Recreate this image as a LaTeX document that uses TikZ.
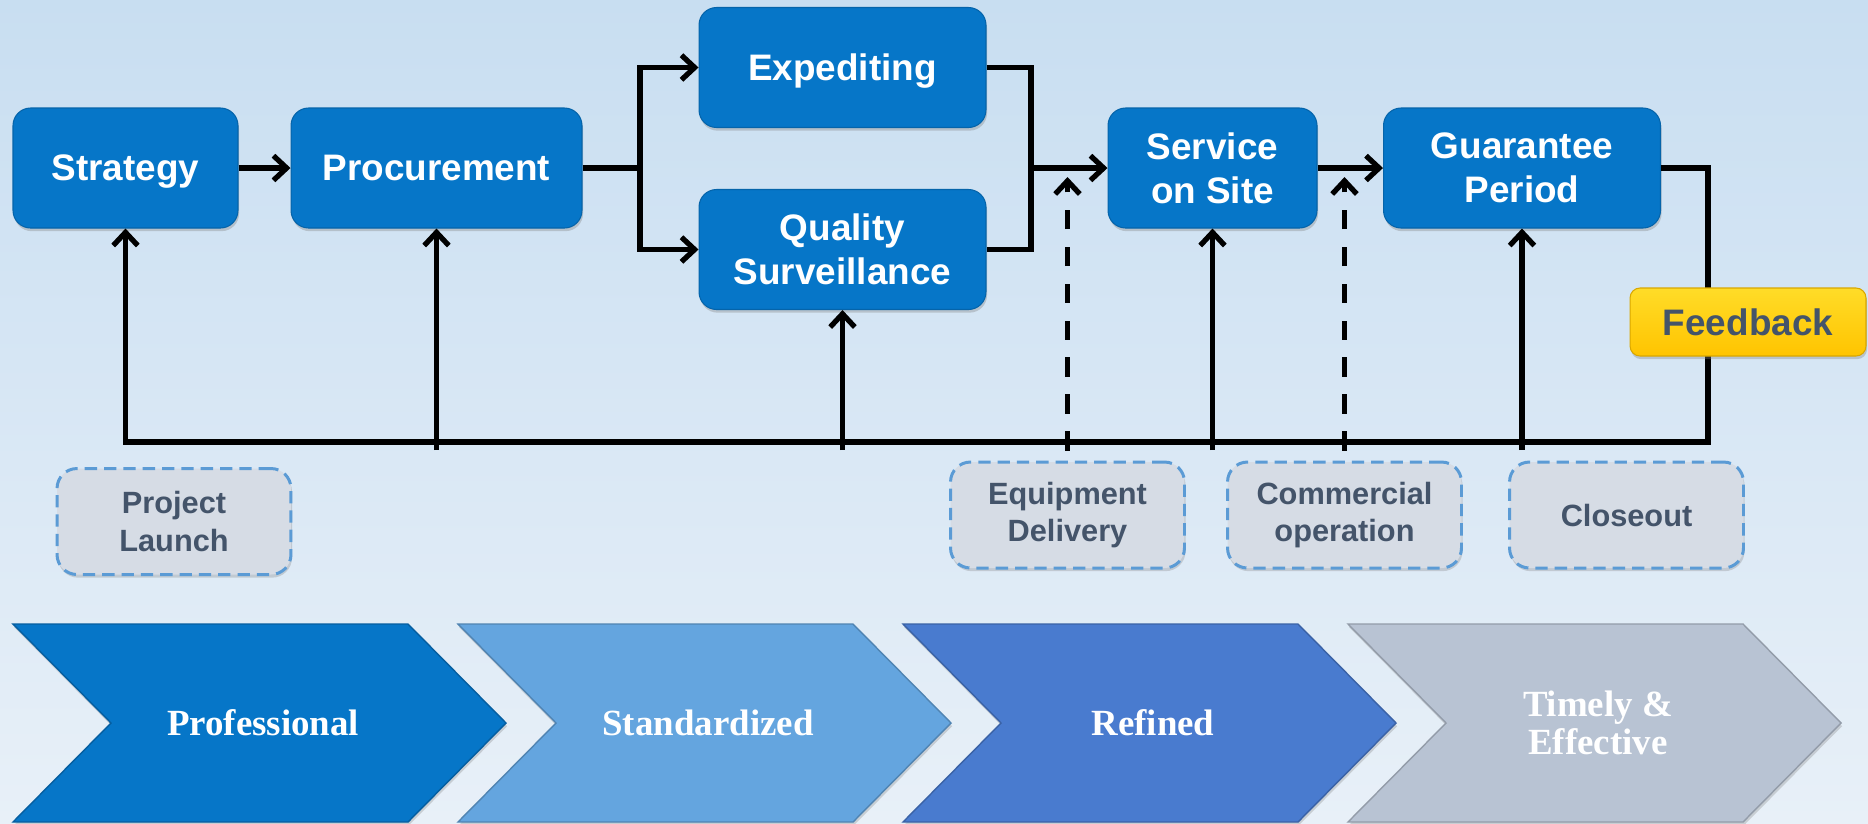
\documentclass[tikz,border=0pt]{standalone}
\usepackage{fontspec}
\setmainfont{Liberation Serif}
\setsansfont{Liberation Sans}
\usepackage{tikz}
\usetikzlibrary{arrows.meta}
\usetikzlibrary{shadows}
\definecolor{boxblue}{RGB}{6,118,200}
\definecolor{lightband}{RGB}{100,165,223}
\definecolor{midband}{RGB}{73,123,207}
\definecolor{greyband}{RGB}{184,195,211}
\definecolor{slate}{RGB}{68,84,106}
\definecolor{dashblue}{RGB}{91,155,213}
\definecolor{notefill}{RGB}{214,220,229}
\definecolor{goldtop}{RGB}{255,220,40}
\definecolor{goldbot}{RGB}{255,196,0}
\definecolor{bgtop}{RGB}{200,222,241}
\definecolor{bgbot}{RGB}{232,240,248}
\tikzset{stage/.style={rounded corners=.35cm, fill=boxblue, draw=boxblue!85!black, line width=.6pt,
    text=white, font=\sffamily\bfseries\fontsize{21}{25}\selectfont, align=center, text depth=0pt,
    minimum height=2.4cm, drop shadow={shadow xshift=.6pt, shadow yshift=-1.8pt, opacity=.35}}}
\tikzset{milestone/.style={rounded corners=.4cm, fill=notefill, draw=dashblue, line width=1.7pt,
    dash pattern=on 7pt off 4pt, text=slate, font=\sffamily\bfseries\fontsize{17.5}{21.5}\selectfont,
    align=center, minimum width=4.68cm, minimum height=2.12cm,
    drop shadow={shadow xshift=.6pt, shadow yshift=-1.8pt, opacity=.3}}}
\tikzset{feedback/.style={rounded corners=.2cm, top color=goldtop, bottom color=goldbot, draw=goldbot!85!black,
    line width=.6pt, text=slate, font=\sffamily\bfseries\fontsize{21}{25}\selectfont,
    minimum width=4.72cm, minimum height=1.36cm,
    drop shadow={shadow xshift=.6pt, shadow yshift=-1.8pt, opacity=.35}}}
\tikzset{band/.style={text=white, font=\rmfamily\bfseries\fontsize{21}{21.5}\selectfont, align=center}}
\tikzset{wire/.style={line width=3pt}}
\tikzset{flow/.style={wire, -{Straight Barb[length=7.5pt,width=14pt]}}}

\begin{document}
\begin{tikzpicture}[x=0.02cm,y=-0.02cm]
  \useasboundingbox (0,0) rectangle (1868,823);
  \shade[top color=bgtop, bottom color=bgbot] (0,0) rectangle (1868,823);

  % chevrons along the bottom
  \foreach \i/\col/\lab in {
    0/boxblue/Professional,
    1/lightband/Standardized,
    2/midband/Refined,
    3/greyband/{Timely \&\\Effective}%
  } {
    \pgfmathsetmacro\x{13+445*\i}
    \draw[fill=\col, draw=\col!80!black, line width=.8pt,
      drop shadow={shadow xshift=.6pt, shadow yshift=-1.8pt, opacity=.3}]
      (\x,624) -- ++(395,0) -- ++(98,99) -- ++(-98,99) -- ++(-395,0) -- ++(98,-99) -- cycle;
    \node[band] (band\i) at (\x+250,723) {\lab};
  }

  % process boxes
  \foreach \name/\x/\y/\w/\lab in {
    strategy/125.5/168/4.5/Strategy,
    procurement/436.5/168/5.82/Procurement,
    expediting/842.5/67.5/5.74/Expediting,
    quality/842.5/249.5/5.74/{Quality\\Surveillance},
    service/1212.5/168/4.18/{Service\\on Site},
    guarantee/1522/168/5.54/{Guarantee\\Period}%
  } {
    \node[stage, minimum width=\w cm] (\name) at (\x, \y) {\lab};
  }

  % milestones
  \foreach \name/\x/\y/\lab in {
    launch/174/521.5/{Project\\Launch},
    delivery/1067.5/515/{Equipment\\Delivery},
    operation/1344.5/515/{Commercial\\operation},
    closeout/1626.5/515/Closeout%
  } {
    \node[milestone] (\name) at (\x, \y) {\lab};
  }

  \coordinate (split) at (640,168);
  \coordinate (merge) at (1031,168);
  \coordinate (bus) at (1708,442);
  \coordinate (tap) at (0,450);
  \coordinate (tip) at (0,177);

  \draw[flow] (strategy) -- (procurement);
  \draw[wire] (procurement) -- (split);
  \draw[flow] (split) |- (expediting);
  \draw[flow] (split) |- (quality);
  \draw[wire] (expediting) -| (merge) |- (quality);
  \draw[flow] (merge) -- (service);
  \draw[flow] (service) -- (guarantee);
  \draw[flow] (guarantee) -| (bus) -| (strategy);
  \foreach \name in {procurement,quality,service,guarantee} {
    \draw[flow] (\name |- tap) -- (\name);
  }
  \foreach \name in {delivery,operation} {
    \draw[flow, dash pattern=on 11pt off 10pt, shorten <=.2cm] (\name.north) -- (\name.north |- tip);
  }

  \node[feedback] (fb) at (1748,322) {Feedback};
\end{tikzpicture}
\end{document}
